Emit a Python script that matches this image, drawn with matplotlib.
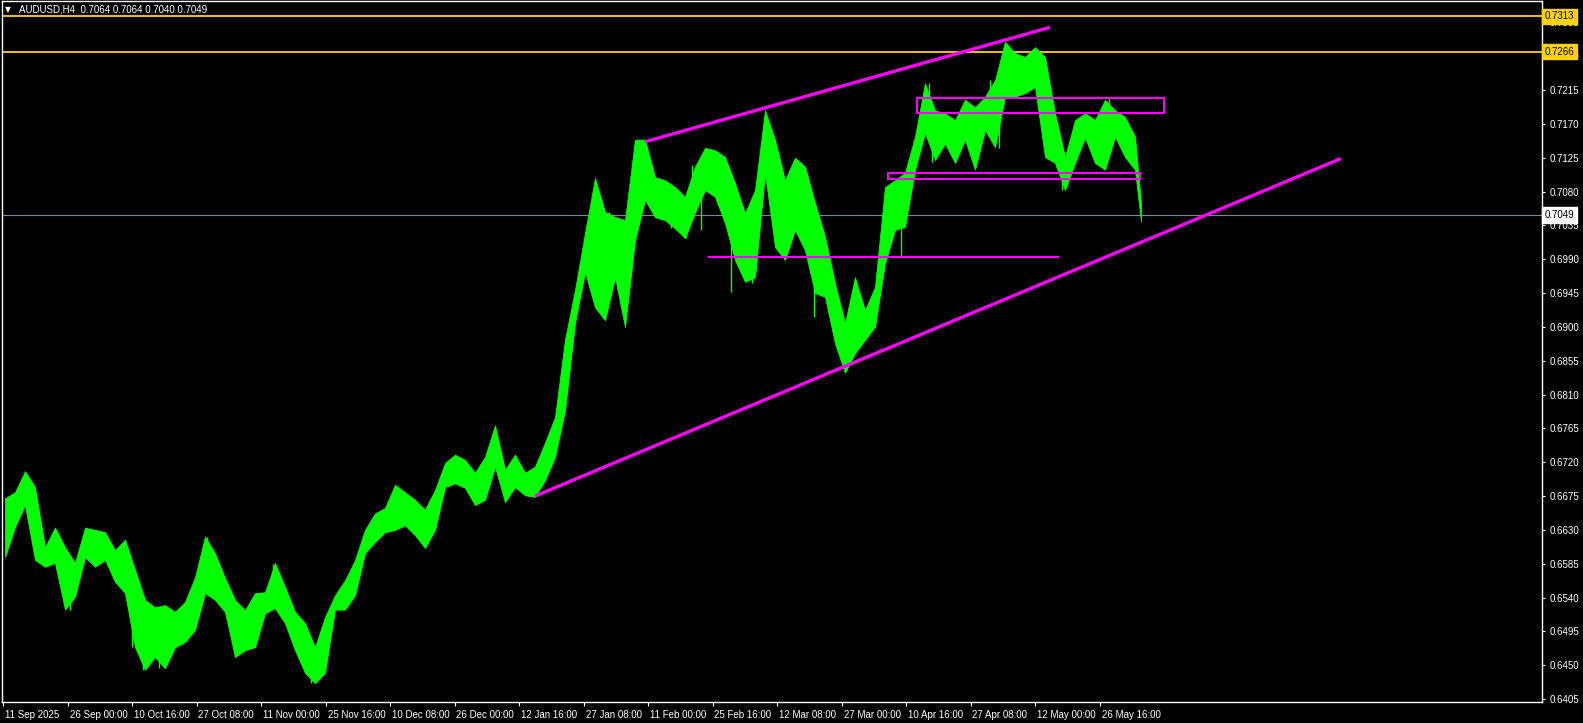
import matplotlib
matplotlib.use("Agg")
import matplotlib.pyplot as plt
import matplotlib.transforms as mtransforms
import numpy as np

plt.rcParams["font.family"] = ["Liberation Sans", "DejaVu Sans"]

# ---------------- data (AUDUSD H4; ~10-bar blocks) ----------------
block_high = [
    0.6672, 0.6680, 0.6708, 0.6687, 0.6607, 0.6633, 0.6607, 0.6586, 0.6633, 0.6630,
    0.6627, 0.6603, 0.6617, 0.6577, 0.6537, 0.6527, 0.6530, 0.6521, 0.6534, 0.6567,
    0.6621, 0.6599, 0.6566, 0.6537, 0.6523, 0.6546, 0.6547, 0.6586, 0.6554, 0.6521,
    0.6506, 0.6474, 0.6514, 0.6543, 0.6563, 0.6590, 0.6630, 0.6652, 0.6659, 0.6690,
    0.6680, 0.6670, 0.6657, 0.6683, 0.6719, 0.6730, 0.6723, 0.6706, 0.6727, 0.6769,
    0.6710, 0.6730, 0.6706, 0.6714, 0.6746, 0.6780, 0.6883, 0.6949, 0.7025, 0.7098,
    0.7053, 0.7046, 0.7042, 0.7149, 0.7149, 0.7099, 0.7095, 0.7086, 0.7073, 0.7113,
    0.7138, 0.7135, 0.7126, 0.7091, 0.7051, 0.7082, 0.7188, 0.7149, 0.7095, 0.7125,
    0.7113, 0.7065, 0.7020, 0.6958, 0.6905, 0.6966, 0.6922, 0.6953, 0.7086, 0.7095,
    0.7105, 0.7153, 0.7224, 0.7188, 0.7184, 0.7175, 0.7202, 0.7192, 0.7206, 0.7228,
    0.7279, 0.7264, 0.7259, 0.7272, 0.7259, 0.7184, 0.7126, 0.7175, 0.7184, 0.7175,
    0.7202, 0.7188, 0.7179, 0.7153, 0.7064,
]
block_low = [
    0.6594, 0.6634, 0.6663, 0.6590, 0.6581, 0.6586, 0.6524, 0.6541, 0.6594, 0.6581,
    0.6590, 0.6561, 0.6546, 0.6474, 0.6444, 0.6461, 0.6446, 0.6474, 0.6481, 0.6497,
    0.6546, 0.6537, 0.6521, 0.6461, 0.6470, 0.6474, 0.6519, 0.6526, 0.6506, 0.6470,
    0.6440, 0.6426, 0.6440, 0.6524, 0.6524, 0.6543, 0.6599, 0.6614, 0.6627, 0.6630,
    0.6636, 0.6623, 0.6606, 0.6630, 0.6687, 0.6692, 0.6686, 0.6663, 0.6670, 0.6714,
    0.6667, 0.6687, 0.6676, 0.6674, 0.6696, 0.6727, 0.6789, 0.6905, 0.6973, 0.6926,
    0.6909, 0.6966, 0.6900, 0.7015, 0.7069, 0.7046, 0.7042, 0.7031, 0.7018, 0.7052,
    0.7082, 0.7073, 0.7038, 0.6989, 0.6960, 0.6966, 0.7105, 0.7006, 0.6989, 0.7029,
    0.7002, 0.6945, 0.6940, 0.6878, 0.6839, 0.6865, 0.6883, 0.6900, 0.6985, 0.7029,
    0.7033, 0.7109, 0.7158, 0.7122, 0.7144, 0.7118, 0.7149, 0.7109, 0.7162, 0.7139,
    0.7206, 0.7206, 0.7211, 0.7219, 0.7126, 0.7118, 0.7082, 0.7118, 0.7152, 0.7118,
    0.7109, 0.7153, 0.7126, 0.7109, 0.7040,
]
# time index of each block (bar position, one unit per bar column)
block_pos = [5 + 10 * k for k in range(len(block_high) - 1)] + [1141]

# individual long wicks (bar position, low, high)
spike_pos = [70, 132, 143, 159, 207, 235, 273, 311, 323, 603, 609, 671, 686, 692,
             701, 731, 752, 814, 901, 929, 932, 990, 999, 1062, 1109]
spike_low = [0.6524, 0.6474, 0.6444, 0.6446, 0.6590, 0.6461, 0.6550, 0.6426, 0.6440,
             0.6912, 0.6989, 0.7031, 0.7018, 0.7069, 0.7029, 0.6946, 0.6958, 0.6913,
             0.6993, 0.7175, 0.7119, 0.7188, 0.7138, 0.7082, 0.7162]
spike_high = [0.6550, 0.6537, 0.6510, 0.6483, 0.6621, 0.6510, 0.6585, 0.6457, 0.6470,
              0.6962, 0.7053, 0.7069, 0.7055, 0.7115, 0.7082, 0.7029, 0.7015, 0.6989,
              0.7055, 0.7224, 0.7162, 0.7228, 0.7188, 0.7122, 0.7204]

title_text = "AUDUSD,H4  0.7064 0.7064 0.7040 0.7049"
last_price = 0.7049
level_prices = [0.7313, 0.7266]

x_tick_pos = [3 + 64.5 * k for k in range(18)]
x_tick_labels = ["11 Sep 2025", "26 Sep 00:00", "10 Oct 16:00", "27 Oct 08:00",
                 "11 Nov 00:00", "25 Nov 16:00", "10 Dec 08:00", "26 Dec 00:00",
                 "12 Jan 16:00", "27 Jan 08:00", "11 Feb 00:00", "25 Feb 16:00",
                 "12 Mar 08:00", "27 Mar 00:00", "10 Apr 16:00", "27 Apr 08:00",
                 "12 May 00:00", "26 May 16:00"]
y_tick_vals = [round(0.6405 + 0.0045 * k, 4) for k in range(21)]

# drawn objects (time index, price anchors)
upper_trend = ([645, 1050], [0.71462, 0.72984])
lower_trend = ([535, 1341], [0.66750, 0.71239])
support_line = ([709, 1058], [0.6993, 0.6993])
zone_upper = (917, 1164, 0.7185, 0.7204)   # x0, x1, p_low, p_high
zone_lower = (888, 1140, 0.7097, 0.7104)

# ---------------- figure ----------------
W, H = 1583, 723
fig = plt.figure(figsize=(W / 100, H / 100), dpi=100)
fig.patch.set_facecolor("black")
ax = fig.add_axes([2 / W, (H - 702) / H, (1542 - 2) / W, (702 - 1) / H])
ax.set_facecolor("black")

ax.set_xlim(2, 1542)
ax.set_ylim(0.64011, 0.73334)

GREEN = "#00FF00"
MAG = "#FF00FF"
GOLD = "#FFD200"
FS = 7

ax.fill_between(block_pos, block_low, block_high, color=GREEN, lw=0.6,
                edgecolor=GREEN, zorder=3)
ax.vlines(spike_pos, spike_low, spike_high, color=GREEN, lw=1.0, zorder=3)

# horizontal levels
for p in level_prices:
    ax.axhline(p, color=GOLD, lw=1.3, zorder=2)
ax.axhline(last_price, color="#778899", lw=0.8, zorder=2)

# trend lines and objects
ax.plot(*upper_trend, color=MAG, lw=2.4, zorder=4, solid_capstyle="butt")
ax.plot(*lower_trend, color=MAG, lw=2.4, zorder=4, solid_capstyle="butt")
ax.plot(*support_line, color=MAG, lw=1.5, zorder=4)
for (x0, x1, p0, p1) in (zone_upper, zone_lower):
    ax.add_patch(plt.Rectangle((x0, p0), x1 - x0, p1 - p0, fill=False,
                               edgecolor=MAG, lw=1.5, zorder=4))

# axes styling
for s in ax.spines.values():
    s.set_color("white")
    s.set_linewidth(1.0)
ax.yaxis.tick_right()
ax.set_yticks(y_tick_vals)
ax.set_yticklabels([f"{v:.4f}" for v in y_tick_vals])
ax.tick_params(axis="y", colors="white", direction="out", length=2.5, width=0.8,
               labelsize=FS, pad=3)
ax.set_xticks(x_tick_pos)
ax.set_xticklabels(x_tick_labels)
ax.tick_params(axis="x", colors="white", direction="out", length=3, width=0.8,
               labelsize=FS, pad=2.5)
offset = mtransforms.ScaledTranslation(2 / 100, 0, fig.dpi_scale_trans)
for lab in ax.get_xticklabels():
    lab.set_horizontalalignment("left")
    lab.set_transform(lab.get_transform() + offset)

# price tags on right axis
trans = mtransforms.blended_transform_factory(ax.transAxes, ax.transData)
for p in level_prices:
    ax.text(1.0015, p, f"{p:.4f}", transform=trans, color="black", fontsize=FS,
            va="center", ha="left", clip_on=False, zorder=10,
            bbox=dict(boxstyle="square,pad=0.28", facecolor=GOLD, edgecolor=GOLD))
ax.text(1.0015, last_price, f"{last_price:.4f}", transform=trans, color="black",
        fontsize=FS, va="center", ha="left", clip_on=False, zorder=10,
        bbox=dict(boxstyle="square,pad=0.28", facecolor="white", edgecolor="white"))

# title
fig.text(5 / W, 1 - 10 / H, "▼", color="white", fontsize=5.5, va="center", ha="left",
         family="DejaVu Sans")
fig.text(19 / W, 1 - 10 / H, title_text, color="white", fontsize=FS,
         va="center", ha="left")

fig.savefig("out.png", dpi=100, facecolor="black")
